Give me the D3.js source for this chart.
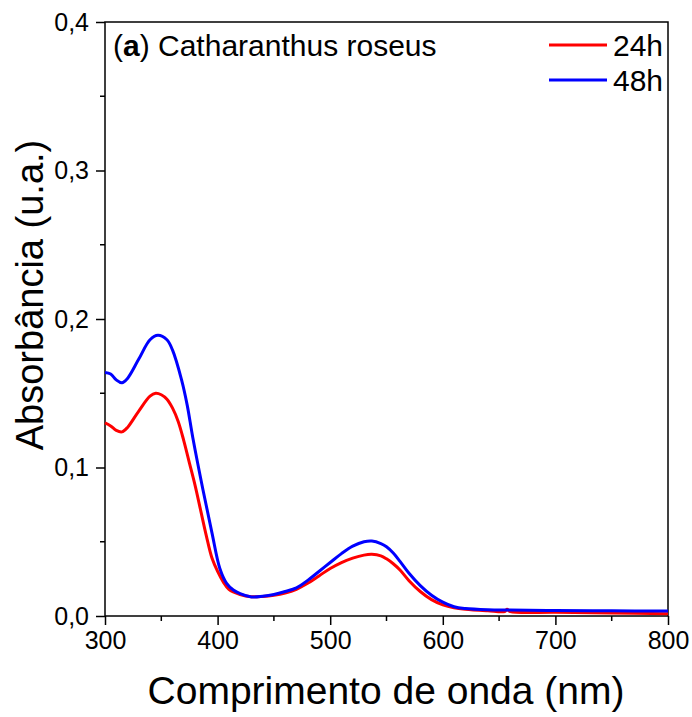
<!DOCTYPE html>
<html lang="pt">
<head>
    <meta charset="UTF-8">
    <title>Absorbância - Catharanthus roseus</title>
    <script src="https://d3js.org/d3.v7.min.js"></script>
    <style>
        body { margin: 0; background: #fff; }
        text { font-family: "Liberation Sans", Arial, sans-serif; fill: #000; }
        .axis path, .axis line { stroke: #000; stroke-width: 1.5px; }
        .curve { fill: none; stroke-width: 3px; stroke-linejoin: round; }
    </style>
</head>
<body>
    <svg width="692" height="717"></svg>
    <script>
        // wavelength (nm) and absorbance
        const wl24 = [300, 305, 310, 315, 320, 330, 340, 345, 350, 355, 360, 365, 370, 375, 380, 385, 390, 395, 400, 405, 410, 420, 430, 440, 450, 460, 470, 480, 490, 500, 510, 520, 530, 537, 545, 550, 556, 562, 570, 580, 590, 600, 610, 620, 640, 655, 657, 660, 700, 750, 800];
        const abs24 = [0.130, 0.128, 0.125, 0.124, 0.127, 0.138, 0.148, 0.150, 0.149, 0.146, 0.140, 0.131, 0.118, 0.103, 0.088, 0.071, 0.054, 0.039, 0.030, 0.023, 0.018, 0.0145, 0.013, 0.0132, 0.014, 0.0155, 0.018, 0.022, 0.027, 0.032, 0.036, 0.039, 0.041, 0.0415, 0.0405, 0.0385, 0.0352, 0.031, 0.0238, 0.0165, 0.011, 0.0075, 0.0055, 0.0045, 0.0035, 0.003, 0.0045, 0.003, 0.0025, 0.002, 0.0015];

        const wl48 = [300, 305, 310, 315, 320, 330, 340, 347, 355, 360, 368, 373, 378, 387, 395, 402, 408, 414, 420, 430, 440, 450, 460, 470, 480, 490, 500, 510, 520, 530, 537, 545, 550, 556, 562, 570, 580, 590, 600, 610, 620, 640, 660, 700, 750, 800];
        const abs48 = [0.164, 0.163, 0.159, 0.157, 0.160, 0.173, 0.186, 0.189, 0.186, 0.179, 0.159, 0.142, 0.120, 0.085, 0.056, 0.032, 0.022, 0.0175, 0.015, 0.0128, 0.0133, 0.0145, 0.0165, 0.019, 0.024, 0.030, 0.036, 0.042, 0.047, 0.050, 0.0505, 0.0488, 0.0466, 0.0424, 0.0368, 0.0288, 0.0205, 0.014, 0.0093, 0.0062, 0.005, 0.0042, 0.004, 0.0037, 0.0035, 0.0033];

        const seriesNames = ["24h", "48h"];
        const seriesColors = ["#ff0000", "#0000ff"];
        const xTicks = [300, 400, 500, 600, 700, 800];
        const yTicks = [0, 0.1, 0.2, 0.3, 0.4];

        const svg = d3.select("svg");
        const pLeft = 105, pRight = 668, pTop = 22, pBottom = 616;

        const x = d3.scaleLinear().domain([300, 800]).range([pLeft, pRight]);
        const y = d3.scaleLinear().domain([0, 0.4]).range([pBottom, pTop]);
        const fmt = d => d3.format(".1f")(d).replace(".", ",");

        // minor ticks
        const xMinor = d3.range(350, 800, 100);
        const yMinor = d3.range(0.05, 0.4, 0.1);

        svg.append("g").attr("class", "axis")
            .selectAll("line").data(xMinor).join("line")
            .attr("x1", d => x(d)).attr("x2", d => x(d))
            .attr("y1", pBottom).attr("y2", pBottom + 5);
        svg.append("g").attr("class", "axis")
            .selectAll("line").data(yMinor).join("line")
            .attr("x1", pLeft).attr("x2", pLeft - 5)
            .attr("y1", d => y(d)).attr("y2", d => y(d));

        const xAxis = svg.append("g").attr("class", "axis")
            .attr("transform", `translate(0,${pBottom})`)
            .call(d3.axisBottom(x).tickValues(xTicks).tickSize(9).tickPadding(6).tickFormat(d3.format("d")));
        xAxis.select(".domain").remove();
        xAxis.selectAll("text").attr("font-size", 25).attr("font-family", "Liberation Sans, Arial, sans-serif");

        const yAxis = svg.append("g").attr("class", "axis")
            .attr("transform", `translate(${pLeft},0)`)
            .call(d3.axisLeft(y).tickValues(yTicks).tickSize(9).tickPadding(7).tickFormat(fmt));
        yAxis.select(".domain").remove();
        yAxis.selectAll("text").attr("font-size", 25).attr("font-family", "Liberation Sans, Arial, sans-serif");

        // frame
        svg.append("rect")
            .attr("x", pLeft).attr("y", pTop)
            .attr("width", pRight - pLeft).attr("height", pBottom - pTop)
            .attr("fill", "none").attr("stroke", "#000").attr("stroke-width", 1.5);

        const line = d3.line()
            .x(d => x(d[0])).y(d => y(d[1]))
            .curve(d3.curveCatmullRom.alpha(0.5));

        const data = [d3.zip(wl24, abs24), d3.zip(wl48, abs48)];

        svg.append("g").selectAll("path").data(data).join("path")
            .attr("class", "curve")
            .attr("stroke", (d, i) => seriesColors[i])
            .attr("d", line);

        // axis titles
        svg.append("text")
            .attr("x", 386).attr("y", 704)
            .attr("text-anchor", "middle").attr("font-size", 39)
            .text("Comprimento de onda (nm)");

        svg.append("text")
            .attr("transform", "translate(43,295) rotate(-90)")
            .attr("text-anchor", "middle").attr("font-size", 38)
            .text("Absorbância (u.a.)");

        // panel label
        const lab = svg.append("text").attr("x", 113).attr("y", 56).attr("font-size", 30);
        lab.append("tspan").text("(");
        lab.append("tspan").attr("font-weight", "bold").text("a");
        lab.append("tspan").text(") Catharanthus roseus");

        // legend
        const leg = svg.append("g").selectAll("g").data(seriesNames).join("g")
            .attr("transform", (d, i) => `translate(0,${45 + i * 35})`);
        leg.append("line")
            .attr("x1", 549).attr("x2", 607).attr("y1", 0).attr("y2", 0)
            .attr("stroke", (d, i) => seriesColors[i]).attr("stroke-width", 3);
        leg.append("text")
            .attr("x", 613).attr("y", 11).attr("font-size", 30)
            .text(d => d);
    </script>
</body>
</html>
